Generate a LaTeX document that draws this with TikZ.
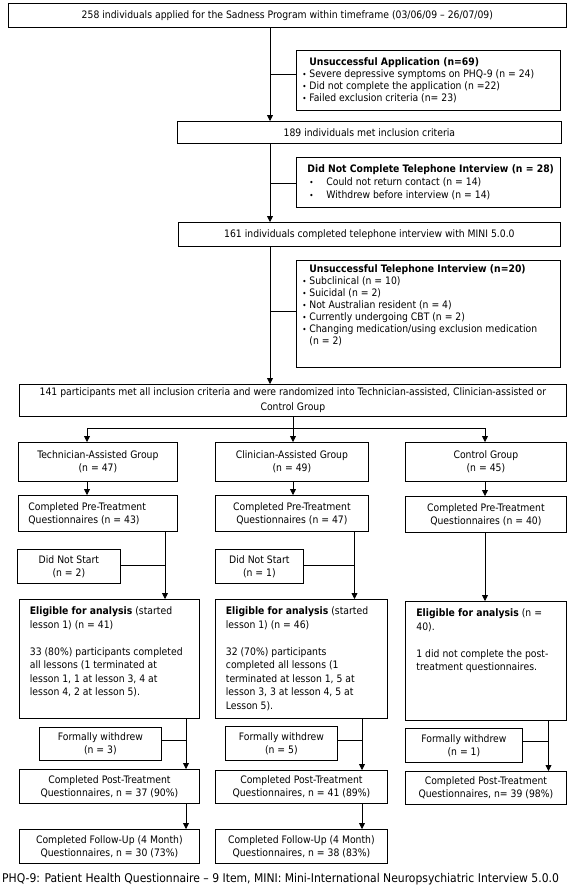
\documentclass[tikz,border=0pt]{standalone}
\usepackage{fontspec}
\setmainfont{DejaVu Sans Condensed}
\usetikzlibrary{arrows.meta}
\newcommand\bfs{\fontsize{10.3}{13.2}\selectfont}
\newcommand\bdot{\raisebox{0.3pt}{\fontsize{8}{8}\selectfont •}}
\newcommand\blt{\makebox[7pt][l]{\bdot}}
\begin{document}
\begin{tikzpicture}[x=1pt,y=-1pt,
  box/.style={draw=black, line width=0.8pt, inner sep=0pt, anchor=north west, font=\bfs},
  cbox/.style={box, align=center},
  conn/.style={draw=black, line width=0.8pt},
  arr/.style={conn, -{Triangle[width=6pt,length=6pt]}}]
\useasboundingbox (0,0) rectangle (570,892);

% ---------- screening part ----------
\node[cbox, minimum width=558, minimum height=24] (a) at (8,3)
  {258 individuals applied for the Sadness Program within timeframe (03/06/09 – 26/07/09)};

\node[box, minimum width=264, minimum height=60] (u1) at (296,50)
  {\parbox[c][60pt][c]{252pt}{\fontsize{10.3}{12.2}\selectfont
   \mbox{\hspace*{7pt}\textbf{Unsuccessful Application (n=69)}}\\
   \mbox{\blt Severe depressive symptoms on PHQ-9 (n = 24)}\\
   \mbox{\blt Did not complete the application (n =22)}\\
   \mbox{\blt Failed exclusion criteria (n= 23)}}};

\node[cbox, minimum width=384, minimum height=22] (b) at (177,121)
  {189 individuals met inclusion criteria};

\node[box, minimum width=264, minimum height=50] (u2) at (296,157)
  {\parbox[c][50pt][c]{242pt}{\fontsize{10.3}{12.8}\selectfont
   \mbox{\textbf{Did Not Complete Telephone Interview (n = 28)}}\\
   \mbox{\hspace*{2pt}\makebox[17pt][l]{\bdot}Could not return contact (n = 14)}\\
   \mbox{\hspace*{2pt}\makebox[17pt][l]{\bdot}Withdrew before interview (n = 14)}}};

\node[cbox, minimum width=382, minimum height=24] (c) at (178,222)
  {161 individuals completed telephone interview with MINI 5.0.0};

\node[box, minimum width=264, minimum height=107] (u3) at (296,260)
  {\parbox[c][107pt][t]{252pt}{\fontsize{10.3}{12}\selectfont\vspace*{4.5pt}
   \mbox{\hspace*{7pt}\textbf{Unsuccessful Telephone Interview (n=20)}}\\
   \mbox{\blt Subclinical (n = 10)}\\
   \mbox{\blt Suicidal (n = 2)}\\
   \mbox{\blt Not Australian resident (n = 4)}\\
   \mbox{\blt Currently undergoing CBT (n = 2)}\\
   \mbox{\blt Changing medication/using exclusion medication}\\
   \mbox{\hspace*{7pt}(n = 2)}}};

\node[cbox, minimum width=547, minimum height=32, font=\fontsize{10.3}{15}\selectfont] (d) at (19,384)
  {141 participants met all inclusion criteria and were randomized into Technician-assisted, Clinician-assisted or\\Control Group};

% ---------- groups ----------
\node[cbox, minimum width=159, minimum height=39] (t1) at (18,442) {Technician-Assisted Group\\(n = 47)};
\node[cbox, minimum width=153, minimum height=39] (c1) at (215,442) {Clinician-Assisted Group\\(n = 49)};
\node[cbox, minimum width=161, minimum height=39] (g1) at (405,442) {Control Group\\(n = 45)};

\node[box, minimum width=159, minimum height=36] (t2) at (18,495)
  {\parbox{139pt}{\mbox{Completed Pre-Treatment}\\\mbox{Questionnaires (n = 43)}}};
\node[cbox, minimum width=153, minimum height=36] (c2) at (215,495) {Completed Pre-Treatment\\Questionnaires (n = 47)};
\node[cbox, minimum width=161, minimum height=36] (g2) at (405,496) {Completed Pre-Treatment\\Questionnaires (n = 40)};

\node[cbox, minimum width=103, minimum height=34] (td) at (17,549) {Did Not Start\\(n = 2)};
\node[cbox, minimum width=88, minimum height=34] (cd) at (215,549) {Did Not Start\\(n = 1)};

\node[box, minimum width=180, minimum height=119] (t3) at (19,599)
  {\parbox[c][119pt][t]{159pt}{\fontsize{10.3}{13.5}\selectfont\vspace*{7.5pt}
   \mbox{\textbf{Eligible for analysis} (started}\\
   \mbox{lesson 1) (n = 41)}\\[13.5pt]
   \mbox{33 (80\%) participants completed}\\
   \mbox{all lessons (1 terminated at}\\
   \mbox{lesson 1, 1 at lesson 3, 4 at}\\
   \mbox{lesson 4, 2 at lesson 5).}}};
\node[box, minimum width=172, minimum height=119] (c3) at (215,599)
  {\parbox[c][119pt][t]{151pt}{\fontsize{10.3}{13.5}\selectfont\vspace*{7.5pt}
   \mbox{\textbf{Eligible for analysis} (started}\\
   \mbox{lesson 1) (n = 46)}\\[13.5pt]
   \mbox{32 (70\%) participants}\\
   \mbox{completed all lessons (1}\\
   \mbox{terminated at lesson 1, 5 at}\\
   \mbox{lesson 3, 3 at lesson 4, 5 at}\\
   \mbox{Lesson 5).}}};
\node[box, minimum width=161, minimum height=119] (g3) at (405,601)
  {\parbox[c][119pt][t]{139pt}{\fontsize{10.3}{13.5}\selectfont\vspace*{7.5pt}
   \mbox{\textbf{Eligible for analysis} (n =}\\
   \mbox{40).}\\[13.5pt]
   \mbox{1 did not complete the post-}\\
   \mbox{treatment questionnaires.}}};

\node[cbox, minimum width=122, minimum height=33] (tf) at (39,727) {Formally withdrew\\(n = 3)};
\node[cbox, minimum width=112, minimum height=34] (cf) at (225,726) {Formally withdrew\\(n = 5)};
\node[cbox, minimum width=117, minimum height=34] (gf) at (405,728) {Formally withdrew\\(n = 1)};

\node[cbox, minimum width=180, minimum height=34] (t4) at (19,769) {Completed Post-Treatment\\Questionnaires, n = 37 (90\%)};
\node[cbox, minimum width=172, minimum height=33] (c4) at (215,770) {Completed Post-Treatment\\Questionnaires, n = 41 (89\%)};
\node[cbox, minimum width=161, minimum height=33] (g4) at (405,771) {Completed Post-Treatment\\Questionnaires, n= 39 (98\%)};

\node[cbox, minimum width=180, minimum height=34] (t5) at (19,829) {Completed Follow-Up (4 Month)\\Questionnaires, n = 30 (73\%)};
\node[cbox, minimum width=172, minimum height=34] (c5) at (215,829) {Completed Follow-Up (4 Month)\\Questionnaires, n = 38 (83\%)};

\node[anchor=west, inner sep=0pt, font=\fontsize{12}{14}\selectfont] (fn) at (2,879)
  {PHQ-9: Patient Health Questionnaire – 9 Item, MINI: Mini-International Neuropsychiatric Interview 5.0.0};

% ---------- connectors ----------
\coordinate (x1) at (270,0);
\draw[arr] (a.south -| x1) -- (b.north -| x1);
\coordinate (j1) at (270,74);
\draw[conn] (j1) -- (j1 -| u1.west);
\draw[arr] (b.south -| x1) -- (c.north -| x1);
\coordinate (j2) at (270,183);
\draw[conn] (j2) -- (j2 -| u2.west);
\draw[arr] (c.south -| x1) -- (d.north -| x1);
\coordinate (j3) at (270,311);
\draw[conn] (j3) -- (j3 -| u3.west);

\coordinate (s0) at (293,428);
\coordinate (sl) at (87,428);
\coordinate (sr) at (485,428);
\draw[conn] (d.south -| s0) -- (s0);
\draw[conn] (sl) -- (sr);
\draw[arr] (sl) -- (t1.north -| sl);
\draw[arr] (s0) -- (c1.north -| s0);
\draw[arr] (sr) -- (g1.north -| sr);

\draw[arr] (t1.south -| sl) -- (t2.north -| sl);
\draw[arr] (c1.south -| s0) -- (c2.north -| s0);
\draw[arr] (g1.south -| sr) -- (g2.north -| sr);

\coordinate (tx) at (165,565);
\draw[arr] (t2.south -| tx) -- (t3.north -| tx);
\draw[conn] (td.east |- tx) -- (tx);
\coordinate (cx) at (354.5,565);
\draw[arr] (c2.south -| cx) -- (c3.north -| cx);
\draw[conn] (cd.east |- cx) -- (cx);
\draw[arr] (g2.south -| sr) -- (g3.north -| sr);

\coordinate (tw) at (186,740);
\draw[arr] (t3.south -| tw) -- (t4.north -| tw);
\draw[conn] (tf.east |- tw) -- (tw);
\coordinate (cw) at (362,740);
\draw[arr] (c3.south -| cw) -- (c4.north -| cw);
\draw[conn] (cf.east |- cw) -- (cw);
\coordinate (gw) at (548.5,741);
\draw[arr] (g3.south -| gw) -- (g4.north -| gw);
\draw[conn] (gf.east |- gw) -- (gw);

\draw[arr] (t4.south -| tw) -- (t5.north -| tw);
\draw[arr] (c4.south -| cw) -- (c5.north -| cw);
\end{tikzpicture}
\end{document}
